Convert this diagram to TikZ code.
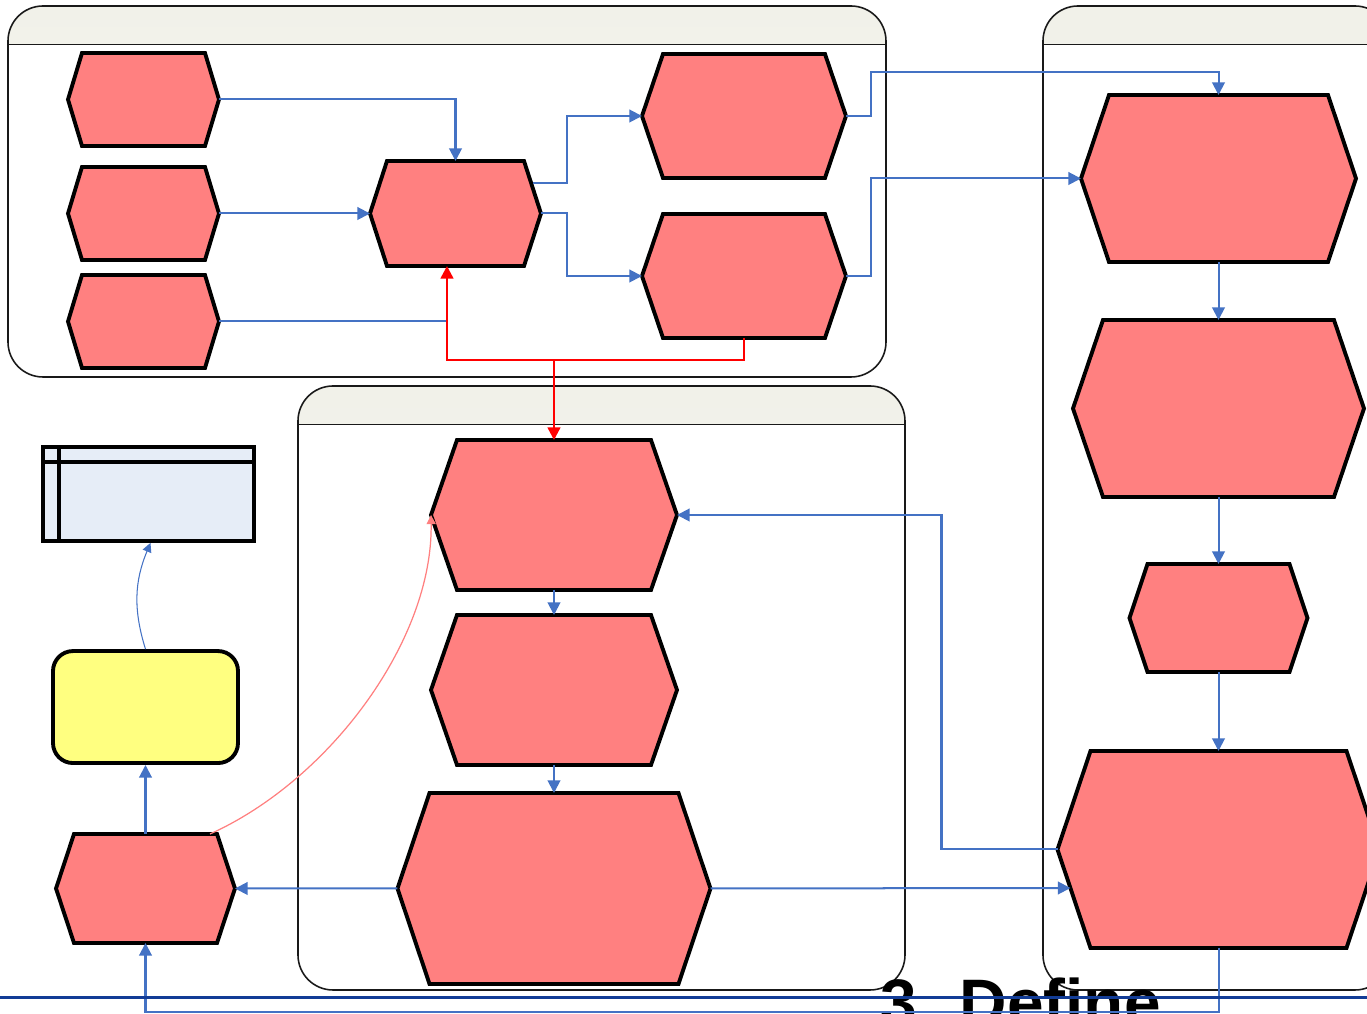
\documentclass[tikz,border=0pt]{standalone}
\usepackage{fontspec}
\setmainfont{Liberation Sans}
\usepackage{tikz}
\usetikzlibrary{arrows.meta,positioning,calc}
\definecolor{HexRed}{HTML}{FF8080}
\definecolor{NoteYellow}{HTML}{FFFF80}
\definecolor{TableBlue}{HTML}{E6EDF7}
\definecolor{FlowBlue}{HTML}{4472C4}
\definecolor{RuleBlue}{HTML}{123C96}
\definecolor{LaneTop}{HTML}{F1F1E9}
\definecolor{LaneBottom}{HTML}{FAFAF7}

\tikzset{
  hexline/.style={draw=black, line width=1.1pt, fill=HexRed, line join=miter},
  hexa/.style={inner sep=0pt, outer sep=0pt,
    append after command={\pgfextra{
      \draw[hexline] (\tikzlastnode.west) -- ([xshift=#1]\tikzlastnode.north west)
        -- ([xshift=-#1]\tikzlastnode.north east) -- (\tikzlastnode.east)
        -- ([xshift=-#1]\tikzlastnode.south east) -- ([xshift=#1]\tikzlastnode.south west) -- cycle;}}},
  lane/.style={draw=black!90, line width=0.45pt, fill=white, rounded corners=0.35cm, inner sep=0pt,
    path picture={
      \shade[sharp corners, top color=LaneTop, bottom color=LaneBottom]
        (path picture bounding box.north west) rectangle ([yshift=-0.385cm]path picture bounding box.north east);
      \draw[sharp corners, black!90, line width=0.45pt]
        ([yshift=-0.385cm]path picture bounding box.north west) -- ([yshift=-0.385cm]path picture bounding box.north east);}},
  flow/.style={->, draw=FlowBlue, line width=0.57pt},
  back/.style={->, draw=red, line width=0.7pt},
}

\begin{document}
\begin{tikzpicture}[node distance=0.3cm, >={Triangle[length=3.6pt,width=3.6pt]}]
  \useasboundingbox (0,0) rectangle (13.67,-10.14);
  % swimlanes
  \node[lane, minimum width=8.78cm, minimum height=3.71cm] (lanetop) at (4.47,-1.915) {};
  \node[lane, minimum width=6.07cm, minimum height=6.04cm] (lanemid) at (6.015,-6.88) {};
  \node[lane, minimum width=3.47cm, minimum height=9.84cm] (laneright) at (12.165,-4.98) {};
  \node[anchor=base west, inner sep=0pt, font=\bfseries\fontsize{18.7}{22}\selectfont] (title) at (8.80,-10.26) {3. Define};

  % top lane
  \node[hexa=0.14cm, minimum width=1.51cm, minimum height=0.93cm] (in1) at (1.435,-0.995) {};
  \node[hexa=0.14cm, minimum width=1.51cm, minimum height=0.93cm, below=0.21cm of in1] (in2) {};
  \node[hexa=0.14cm, minimum width=1.51cm, minimum height=0.93cm, below=0.15cm of in2] (in3) {};
  \node[hexa=0.17cm, minimum width=1.71cm, minimum height=1.05cm] (hub) at (4.555,-2.135) {};
  \node[hexa=0.21cm, minimum width=2.04cm, minimum height=1.24cm] (out1) at (7.44,-1.16) {};
  \node[hexa=0.21cm, minimum width=2.04cm, minimum height=1.24cm, below=0.36cm of out1] (out2) {};

  % right lane
  \node[hexa=0.28cm, minimum width=2.75cm, minimum height=1.67cm] (r1) at (12.185,-1.785) {};
  \node[hexa=0.30cm, minimum width=2.91cm, minimum height=1.77cm, below=0.58cm of r1] (r2) {};
  \node[hexa=0.18cm, minimum width=1.78cm, minimum height=1.08cm, below=0.67cm of r2] (r3) {};
  \node[hexa=0.33cm, minimum width=3.22cm, minimum height=1.97cm, below=0.79cm of r3] (r4) {};

  % middle lane
  \node[hexa=0.26cm, minimum width=2.46cm, minimum height=1.50cm] (m1) at (5.54,-5.15) {};
  \node[hexa=0.26cm, minimum width=2.46cm, minimum height=1.50cm, below=0.25cm of m1] (m2) {};
  \node[hexa=0.32cm, minimum width=3.13cm, minimum height=1.91cm, below=0.28cm of m2] (m3) {};

  % left column
  \node[hexa=0.18cm, minimum width=1.79cm, minimum height=1.09cm] (l1) at (1.455,-8.885) {};
  \node[draw, line width=1.1pt, fill=NoteYellow, rounded corners=0.2cm, inner sep=0pt,
        minimum width=1.85cm, minimum height=1.12cm, above=0.69cm of l1] (note) {};
  \node[draw, line width=1.1pt, fill=TableBlue, inner sep=0pt,
        minimum width=2.11cm, minimum height=0.94cm] (tbl) at (1.485,-4.94) {};
  \draw[line width=1.1pt] ([yshift=-0.17cm]tbl.north west) -- ([yshift=-0.17cm]tbl.north east);
  \draw[line width=1.1pt] ([xshift=0.18cm]tbl.north west) -- ([xshift=0.18cm]tbl.south west);

  % connectors
  \coordinate (fork) at (5.54,-3.60);
  \coordinate (hubup) at ($(hub.east)+(-0.08,0.30)$);
  \coordinate (r4in) at ($(r4.west)+(0.13,-0.385)$);
  \draw[flow] (in1.east) -| (hub.north);
  \draw[flow] (in2.east) -- (hub.west);
  \draw[flow, -] (in3.east) -- ++(2.28,0);
  \draw[flow] (hubup) -- ++(0.34,0) |- (out1.west);
  \draw[flow] (hub.east) -- ++(0.26,0) |- (out2.west);
  \draw[flow] (out1.east) -- ++(0.25,0) -- ++(0,0.44) -| (r1.north);
  \draw[flow] (out2.east) -- ++(0.25,0) |- (r1.west);
  \draw[back] (out2.south) -- ++(0,-0.22) -| ([xshift=-0.085cm]hub.south);
  \draw[back] (fork) -- (m1.north);
  \draw[flow] (r1.south) -- (r2.north);
  \draw[flow] (r2.south) -- (r3.north);
  \draw[flow] (r3.south) -- (r4.north);
  \draw[flow] (m1.south) -- (m2.north);
  \draw[flow] (m2.south) -- (m3.north);
  \draw[flow] (m3.west) -- (l1.east);
  \draw[flow] (m3.east) -- (r4in);
  \draw[flow] (r4.west) -- ++(-1.16,0) |- (m1.east);
  \draw[flow] (r4.south) -- ++(0,-0.64) -| (l1.south);
  \draw[flow] (l1.north) -- (note.south);
  \draw[->, FlowBlue, line width=0.3pt, >={Triangle[length=2.6pt,width=2.6pt]}]
    (note.north) to[bend left=20] ([xshift=0.02cm]tbl.south);
  \draw[->, HexRed, line width=0.35pt, >={Triangle[length=2.6pt,width=2.6pt]}]
    ([xshift=-0.25cm]l1.north east) .. controls (3.3,-7.8) and (4.33,-6.4) .. (m1.west);

  % page rule
  \draw[RuleBlue, line width=0.85pt] (0,-9.98) -- (13.67,-9.98);
\end{tikzpicture}
\end{document}
